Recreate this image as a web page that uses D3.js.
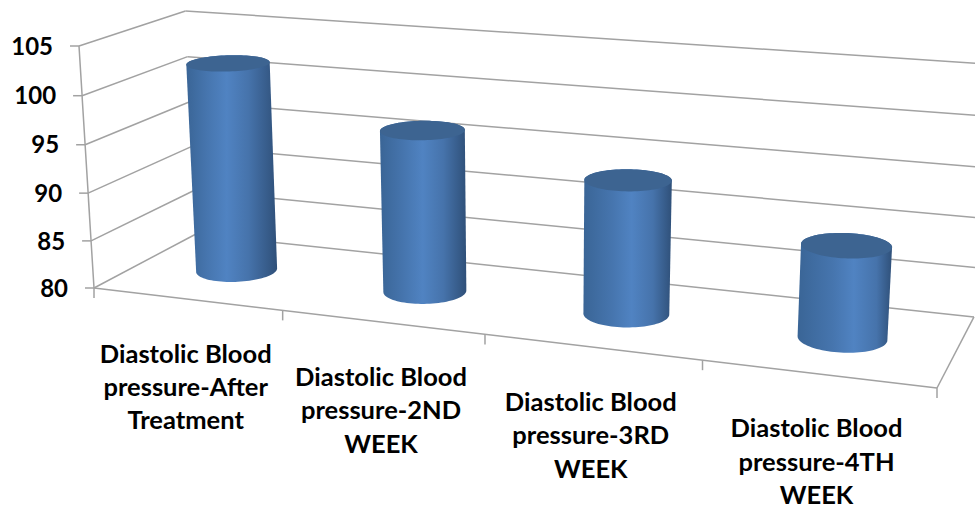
<!DOCTYPE html>
<html>
<head>
<meta charset="utf-8">
<script src="https://cdn.jsdelivr.net/npm/d3@7/dist/d3.min.js"></script>
<style>
  html, body { margin: 0; padding: 0; background: #fff; }
  svg { display: block; }
  text { font-family: Lato, "Open Sans", sans-serif; font-weight: 700; fill: #000; }
</style>
</head>
<body>
<svg id="chart" width="975" height="510"></svg>
<script>
// Category labels, one entry per wrapped line
const categoryLines = [
  ["Diastolic Blood", "pressure-After", "Treatment"],
  ["Diastolic Blood", "pressure-2ND", "WEEK"],
  ["Diastolic Blood", "pressure-3RD", "WEEK"],
  ["Diastolic Blood", "pressure-4TH", "WEEK"]
];
const categories = categoryLines.map(l => l.join(" "));
// Mean diastolic pressure per visit
const values = [102, 96.7, 93.5, 89.1];
const valueDomain = [80, 105];

// Perspective box: pixel positions of the floor's near-left origin and the far end
// of each axis, plus the foreshortening factor along each axis.
const O = [94, 288], X = [937, 388], Y = [79, 46], Z = [196, 234];
const gx = -0.135, gy = -0.033, gz = 0.09;

function project(u, v, w) {
  const den = 1 + gx * u + gy * v + gz * w;
  const axis = i => O[i]
    + u * (X[i] * (1 + gx) - O[i])
    + v * (Y[i] * (1 + gy) - O[i])
    + w * (Z[i] * (1 + gz) - O[i]);
  return [axis(0) / den, axis(1) / den];
}

const band = d3.scaleBand().domain(categories).range([0, 1]);
const yScale = d3.scaleLinear().domain(valueDomain).range([0, 1]);
const yTicks = yScale.ticks(5);

const svg = d3.select("#chart");
const line = d3.line();

const frame = svg.append("g")
  .attr("fill", "none").attr("stroke", "#a2a2a2").attr("stroke-width", 1.5);

function seg(a, b) {
  frame.append("path").attr("d", line([project(...a), project(...b)]));
}

// Back wall and side wall gridlines with the value ticks on the near edge
yTicks.forEach(t => {
  const v = yScale(t);
  seg([0, v, 0], [0, v, 1]);
  seg([0, v, 1], [1, v, 1]);
  const p = project(0, v, 0);
  frame.append("path").attr("d", line([[p[0] - 9, p[1]], p]));
  svg.append("text")
    .attr("x", p[0] - 26).attr("y", p[1])
    .attr("dy", "0.36em")
    .attr("text-anchor", "end")
    .attr("font-size", 24)
    .text(t);
});

// Floor outline and vertical edge of the value axis
seg([0, 0, 0], [0, 1, 0]);
seg([0, 0, 0], [1, 0, 0]);
seg([1, 0, 0], [1, 0, 1]);

// Category ticks on the floor's near edge
const tickEdges = categories.map(c => band(c)).concat(1);
tickEdges.forEach(u => {
  const p = project(u, 0, 0);
  frame.append("path").attr("d", line([p, [p[0], p[1] + 10]]));
});

// Cylinders
const defs = svg.append("defs");
const radiusU = 0.049, radiusW = 0.2, depthCentre = 0.5;
const angles = d3.range(0, 2 * Math.PI, Math.PI / 45);

function ring(cu, v) {
  return angles.map(a =>
    project(cu + radiusU * Math.cos(a), v, depthCentre + radiusW * Math.sin(a)));
}

categories.forEach((c, i) => {
  const cu = band(c) + band.bandwidth() / 2;
  const top = ring(cu, yScale(values[i]));
  const bottom = ring(cu, 0);
  const body = d3.polygonHull(top.concat(bottom));
  const peak = 0.42 + 0.2 * cu;

  const grad = defs.append("linearGradient").attr("id", "side" + i);
  [[0, "#3a6596"], [peak - 0.22, "#4675ae"], [peak, "#5083c2"],
   [peak + 0.24, "#4673ab"], [1, "#2f5079"]].forEach(([o, col]) =>
    grad.append("stop").attr("offset", o).attr("stop-color", col));

  svg.append("path")
    .attr("d", line(body) + "Z")
    .attr("fill", `url(#side${i})`);
  svg.append("path")
    .attr("d", line(top) + "Z")
    .attr("fill", "#3d6491");
});

// Wrapped category labels below the floor edge
categories.forEach((c, i) => {
  const p = project(band(c) + band.bandwidth() / 2, 0, 0);
  const label = svg.append("text")
    .attr("text-anchor", "middle")
    .attr("font-size", 25.5);
  categoryLines[i].forEach((t, k) => {
    label.append("tspan")
      .attr("x", p[0] - 1)
      .attr("y", p[1] + 55 + k * 33.4)
      .attr("dy", "0.34em")
      .text(t);
  });
});
</script>
</body>
</html>
